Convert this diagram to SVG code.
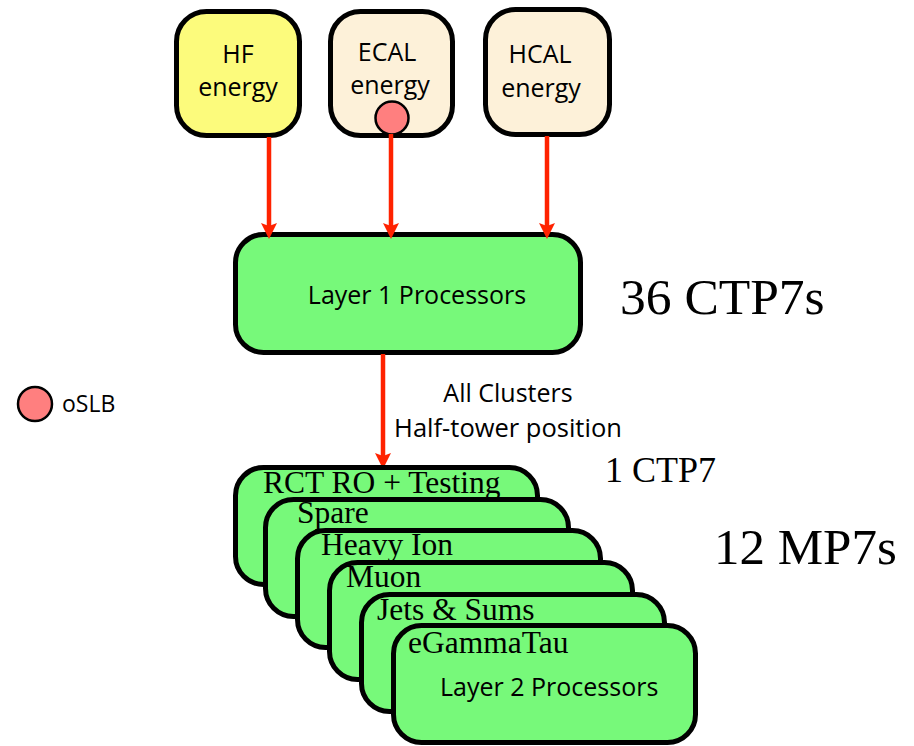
<svg xmlns="http://www.w3.org/2000/svg" width="914" height="746" viewBox="0 0 914 746">
<style>
.box{stroke:#000;stroke-width:5}
.hf{fill:#FCFB7C}
.cal{fill:#FDF1D9}
.grn{fill:#77F97A}
.dot{fill:#FF7F7F;stroke:#000;stroke-width:2.5}
.sans{font-family:"Open Sans","Noto Sans",sans-serif;font-size:25px;fill:#000}
.serif{font-family:"Liberation Serif","Times New Roman",serif;fill:#000}
.stk{font-size:31.5px}
.arr{stroke:#FF2200;stroke-width:4.5;fill:none;marker-end:url(#ah)}
</style>
<defs>
<marker id="ah" viewBox="0 0 16 16" markerWidth="16" markerHeight="16" refX="6" refY="8" orient="auto" markerUnits="userSpaceOnUse">
<path d="M0,0 L16,8 L0,16 L3,8 z" fill="#FF2200"/>
</marker>
</defs>
<rect width="914" height="746" fill="#fff"/>
<g id="hf">
<rect class="box hf" x="176.5" y="11.5" width="123" height="124" rx="30"/>
<text class="sans" x="238" y="63" text-anchor="middle">HF</text>
<text class="sans" x="238" y="96" text-anchor="middle">energy</text>
</g>
<g id="ecal">
<rect class="box cal" x="330.5" y="11.5" width="122" height="124" rx="30"/>
<text class="sans" x="387" y="61" text-anchor="middle">ECAL</text>
<text class="sans" x="390" y="94" text-anchor="middle">energy</text>
<circle class="dot" cx="392" cy="118" r="16.5"/>
</g>
<g id="hcal">
<rect class="box cal" x="485.5" y="9.5" width="124" height="125" rx="30"/>
<text class="sans" x="540" y="63" text-anchor="middle">HCAL</text>
<text class="sans" x="541" y="97" text-anchor="middle">energy</text>
</g>
<g id="layer1">
<rect class="box grn" x="235.5" y="234.5" width="345" height="118" rx="28"/>
<text class="sans" x="417" y="304" text-anchor="middle">Layer 1 Processors</text>
</g>
<g id="connectors">
<line class="arr" x1="269" y1="137" x2="269" y2="229"/>
<line class="arr" x1="391" y1="134" x2="391" y2="229"/>
<line class="arr" x1="547" y1="136" x2="547" y2="229"/>
<line class="arr" x1="383" y1="354" x2="383" y2="459"/>
</g>
<g id="conn-label">
<text class="sans" x="508" y="402" text-anchor="middle">All Clusters</text>
<text class="sans" x="508" y="437" text-anchor="middle" style="font-size:25.5px">Half-tower position</text>
</g>
<g id="legend">
<circle class="dot" cx="35" cy="404" r="17"/>
<text class="sans" x="62" y="412" style="font-size:23px">oSLB</text>
</g>
<g id="ctp7-label">
<text class="serif" x="620" y="314" style="font-size:51.5px">36 CTP7s</text>
<text class="serif" x="605" y="482" style="font-size:36px">1 CTP7</text>
<text class="serif" x="714" y="564" style="font-size:51px">12 MP7s</text>
</g>
<g id="rct">
<rect class="box grn" x="235.5" y="467.5" width="302" height="117" rx="28"/>
<text class="serif stk" x="263" y="493">RCT RO + Testing</text>
</g>
<g id="spare">
<rect class="box grn" x="265.5" y="499.5" width="303" height="117" rx="28"/>
<text class="serif stk" x="297" y="523">Spare</text>
</g>
<g id="heavyion">
<rect class="box grn" x="297.5" y="530.5" width="303" height="117" rx="28"/>
<text class="serif stk" x="321" y="555">Heavy Ion</text>
</g>
<g id="muon">
<rect class="box grn" x="329.5" y="562.5" width="303" height="117" rx="28"/>
<text class="serif stk" x="346" y="587">Muon</text>
</g>
<g id="jets">
<rect class="box grn" x="361.5" y="594.5" width="303" height="117" rx="28"/>
<text class="serif stk" x="377" y="620">Jets &amp; Sums</text>
</g>
<g id="egammatau">
<rect class="box grn" x="393.5" y="625.5" width="302" height="117" rx="28"/>
<text class="serif stk" x="408" y="653">eGammaTau</text>
<text class="sans" x="440" y="696">Layer 2 Processors</text>
</g>
</svg>
